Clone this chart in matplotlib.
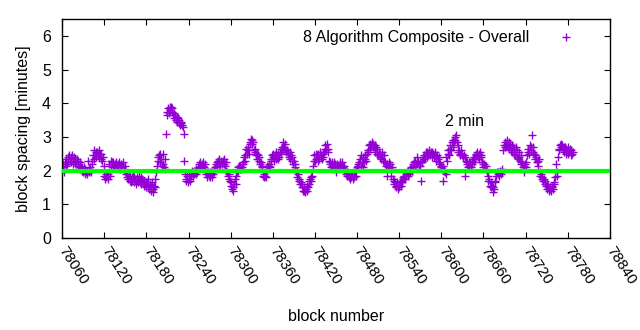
# block spacing chart, gnuplot look-alike

import numpy as np
import matplotlib
matplotlib.use('Agg')
import matplotlib.pyplot as plt
from matplotlib.lines import Line2D

plt.rcParams['font.family'] = ['Liberation Sans', 'DejaVu Sans']

first_block = 78060
# one value per block
spacing = [
    2.05, 2.20, 2.10, 1.95, 2.25, 2.15, 2.35, 2.20, 2.40, 2.25,
    2.45, 2.30, 2.40, 2.25, 2.45, 2.30, 2.20, 2.40, 2.25, 2.35,
    2.20, 2.35, 2.15, 2.30, 2.10, 2.25, 2.05, 2.15, 2.00, 2.10,
    1.95, 2.10, 1.90, 2.05, 1.95, 2.00, 1.90, 2.30, 2.05, 1.95,
    2.10, 1.95, 2.20, 2.30, 2.45, 2.35, 2.60, 2.45, 2.55, 2.40,
    2.55, 2.45, 2.60, 2.40, 2.50, 2.35, 2.50, 2.30, 2.40, 2.15,
    1.85, 1.75, 1.90, 1.80, 1.85, 1.75, 1.90, 2.20, 1.85, 2.30,
    2.15, 2.25, 2.10, 2.25, 2.15, 2.20, 2.10, 2.25, 2.15, 2.20,
    2.10, 2.25, 2.15, 2.05, 2.20, 2.10, 2.15, 2.25, 2.05, 2.15,
    2.00, 1.90, 1.80, 1.90, 1.75, 1.85, 1.70, 1.80, 1.65, 1.80,
    1.70, 1.85, 1.65, 1.80, 1.75, 1.60, 1.70, 1.80, 1.65, 1.85,
    1.75, 1.65, 1.80, 1.60, 1.75, 1.65, 1.55, 1.70, 1.60, 1.65,
    1.50, 1.65, 1.55, 1.75, 1.45, 1.60, 1.40, 1.55, 1.65, 1.45,
    1.35, 1.55, 1.50, 1.75, 1.95, 2.15, 2.30, 2.40, 2.45, 2.25,
    2.50, 2.35, 2.15, 2.50, 2.20, 2.10, 2.35, 2.05, 3.10, 3.65,
    3.75, 3.85, 3.70, 3.90, 3.80, 3.90, 3.75, 3.85, 3.65, 3.70,
    3.55, 3.65, 3.50, 3.60, 3.45, 3.55, 3.40, 3.50, 3.35, 3.45,
    3.40, 3.35, 3.30, 3.10, 2.30, 1.90, 1.75, 1.70, 1.85, 1.65,
    1.75, 1.85, 1.70, 1.90, 1.85, 2.00, 1.85, 1.95, 1.90, 2.00,
    1.90, 2.05, 1.95, 2.10, 2.05, 2.20, 2.10, 2.25, 2.10, 2.20,
    2.15, 2.25, 2.10, 2.20, 2.00, 1.90, 1.95, 1.80, 1.95, 1.85,
    1.95, 1.80, 1.90, 1.95, 1.80, 1.90, 2.05, 1.95, 2.10, 2.20,
    2.25, 2.15, 2.30, 2.20, 2.35, 2.15, 2.30, 2.20, 2.25, 2.30,
    2.20, 2.35, 2.15, 2.25, 2.00, 1.95, 1.85, 1.90, 1.75, 1.70,
    1.55, 1.65, 1.45, 1.40, 1.50, 1.60, 1.75, 1.60, 1.85, 1.95,
    2.10, 2.00, 2.15, 2.05, 2.15, 2.05, 2.10, 2.20, 2.25, 2.40,
    2.45, 2.30, 2.65, 2.50, 2.70, 2.60, 2.50, 2.80, 2.85, 2.95,
    2.80, 2.90, 2.85, 2.60, 2.55, 2.65, 2.45, 2.50, 2.35, 2.45,
    2.40, 2.30, 2.20, 2.25, 2.10, 2.15, 1.85, 1.80, 1.90, 1.85,
    1.80, 1.95, 2.15, 2.10, 2.20, 2.15, 2.10, 2.35, 2.30, 2.45,
    2.40, 2.50, 2.30, 2.45, 2.35, 2.55, 2.40, 2.35, 2.50, 2.40,
    2.55, 2.50, 2.65, 2.70, 2.60, 2.85, 2.70, 2.80, 2.65, 2.55,
    2.60, 2.50, 2.55, 2.40, 2.55, 2.35, 2.45, 2.30, 2.40, 2.20,
    2.30, 2.20, 2.10, 1.95, 2.00, 1.80, 1.90, 1.70, 1.75, 1.60,
    1.65, 1.50, 1.60, 1.40, 1.50, 1.40, 1.35, 1.45, 1.40, 1.55,
    1.50, 1.70, 1.60, 1.75, 1.70, 1.80, 1.85, 2.15, 2.30, 2.45,
    2.30, 2.50, 2.35, 2.45, 2.30, 2.50, 2.35, 2.55, 2.40, 2.45,
    2.35, 2.50, 2.40, 2.55, 2.65, 2.75, 2.60, 2.80, 2.65, 2.55,
    2.30, 2.20, 2.25, 2.10, 2.25, 2.15, 2.10, 2.25, 2.20, 2.10,
    1.95, 2.15, 2.20, 2.10, 2.15, 2.25, 2.20, 2.10, 2.15, 2.25,
    2.10, 2.15, 2.00, 2.05, 1.90, 1.95, 1.85, 1.90, 1.80, 1.90,
    1.75, 1.85, 1.80, 1.90, 1.75, 1.85, 1.80, 1.95, 1.85, 2.05,
    2.10, 2.20, 2.15, 2.25, 2.35, 2.15, 2.45, 2.25, 2.10, 2.40,
    2.25, 2.35, 2.45, 2.30, 2.50, 2.60, 2.55, 2.75, 2.65, 2.80,
    2.75, 2.85, 2.70, 2.80, 2.70, 2.75, 2.55, 2.70, 2.50, 2.65,
    2.45, 2.55, 2.40, 2.50, 2.35, 2.45, 2.55, 2.30, 2.45, 2.30,
    2.25, 2.15, 1.85, 2.20, 2.10, 2.25, 2.10, 2.20, 1.85, 2.05,
    2.10, 1.75, 1.70, 1.60, 1.65, 1.50, 1.55, 1.65, 1.45, 1.60,
    1.50, 1.65, 1.55, 1.70, 1.65, 1.80, 1.75, 1.85, 1.75, 1.90,
    1.85, 1.95, 1.85, 2.00, 1.90, 2.05, 1.95, 2.10, 2.00, 2.20,
    2.15, 2.25, 2.15, 2.30, 2.20, 2.40, 2.20, 2.30, 2.15, 2.25,
    2.15, 1.70, 2.30, 2.25, 2.40, 2.35, 2.45, 2.40, 2.55, 2.40,
    2.55, 2.45, 2.50, 2.60, 2.45, 2.55, 2.40, 2.55, 2.50, 2.40,
    2.45, 2.55, 2.40, 2.30, 2.45, 2.35, 2.25, 2.40, 2.20, 2.10,
    2.15, 2.05, 1.70, 2.15, 2.00, 1.95, 1.90, 2.40, 2.30, 2.50,
    2.60, 2.45, 2.65, 2.75, 2.60, 2.85, 2.70, 2.90, 2.85, 3.00,
    2.90, 3.05, 2.85, 2.75, 2.55, 2.60, 2.45, 2.50, 2.60, 2.45,
    2.50, 2.40, 2.45, 1.85, 2.40, 2.30, 2.20, 2.25, 2.10, 2.25,
    2.15, 2.25, 2.10, 2.30, 2.20, 2.35, 2.25, 2.40, 2.35, 2.50,
    2.45, 2.55, 2.40, 2.50, 2.35, 2.55, 2.40, 2.45, 2.25, 2.20,
    2.10, 2.20, 2.15, 2.05, 2.15, 1.95, 1.85, 1.70, 1.75, 1.55,
    1.65, 1.50, 1.55, 1.35, 1.50, 1.45, 1.65, 1.70, 1.85, 1.95,
    1.90, 1.95, 1.85, 1.95, 2.00, 1.90, 1.95, 2.05, 2.60, 2.75,
    2.70, 2.85, 2.75, 2.90, 2.80, 2.70, 2.85, 2.65, 2.80, 2.60,
    2.75, 2.55, 2.70, 2.50, 2.65, 2.45, 2.70, 2.40, 2.60, 2.35,
    2.55, 2.40, 2.30, 2.45, 2.20, 2.25, 2.10, 1.95, 2.15, 2.20,
    2.25, 2.10, 2.45, 2.55, 2.65, 2.50, 2.75, 2.70, 2.60, 3.05,
    2.55, 2.70, 2.50, 2.45, 2.35, 2.40, 2.25, 2.30, 2.15, 2.35,
    1.95, 1.85, 1.90, 1.75, 1.80, 1.70, 1.75, 1.60, 1.70, 1.55,
    1.60, 1.45, 1.55, 1.40, 1.45, 1.50, 1.40, 1.50, 1.55, 1.45,
    1.65, 1.60, 1.80, 2.20, 1.85, 1.95, 2.40, 2.60, 2.65, 2.75,
    2.80, 2.70, 2.75, 2.60, 2.70, 2.55, 2.70, 2.50, 2.65, 2.55,
    2.70, 2.50, 2.55, 2.65, 2.45, 2.60, 2.50, 2.55,
]
blocks = first_block + np.arange(len(spacing))

target_minutes = 2.0
series_label = '8 Algorithm Composite - Overall'
x_ticks = list(range(78060, 78841, 60))

fs = 11.5
fig = plt.figure(figsize=(6.4, 3.3), dpi=100)
ax = fig.add_axes([0.097, 0.279, 0.856, 0.663])

ax.plot(blocks, spacing, linestyle='none', marker='+', markersize=6,
        markeredgewidth=1.0, color='#9400d3', zorder=2)
ax.axhline(target_minutes, color='#00ff00', linewidth=3, zorder=3)
ax.text(78605, 3.47, '2 min', fontsize=fs, ha='left', va='center')

ax.set_xlim(78060, 78840)
ax.set_ylim(0, 6.5)
ax.set_xticks(x_ticks)
ax.set_xticklabels([str(t) for t in x_ticks], rotation=-57, ha='left',
                   va='center', rotation_mode='anchor', fontsize=11)
ax.set_yticks(range(0, 7))
ax.tick_params(axis='y', labelsize=fs, pad=8)
ax.tick_params(direction='in', top=True, right=True, length=4, width=0.8)
ax.tick_params(axis='x', pad=7)
for s in ax.spines.values():
    s.set_linewidth(1.0)

ax.set_xlabel('block number', fontsize=fs, labelpad=16)
ax.set_ylabel('block spacing [minutes]', fontsize=fs, labelpad=8)

handle = Line2D([], [], linestyle='none', marker='+', markersize=6,
                markeredgewidth=1.0, color='#9400d3')
ax.legend([handle], [series_label], loc='upper right', frameon=False,
          markerfirst=False, fontsize=fs, bbox_to_anchor=(0.976, 1.015),
          handletextpad=1.3)

fig.savefig('out.png', dpi=100)
